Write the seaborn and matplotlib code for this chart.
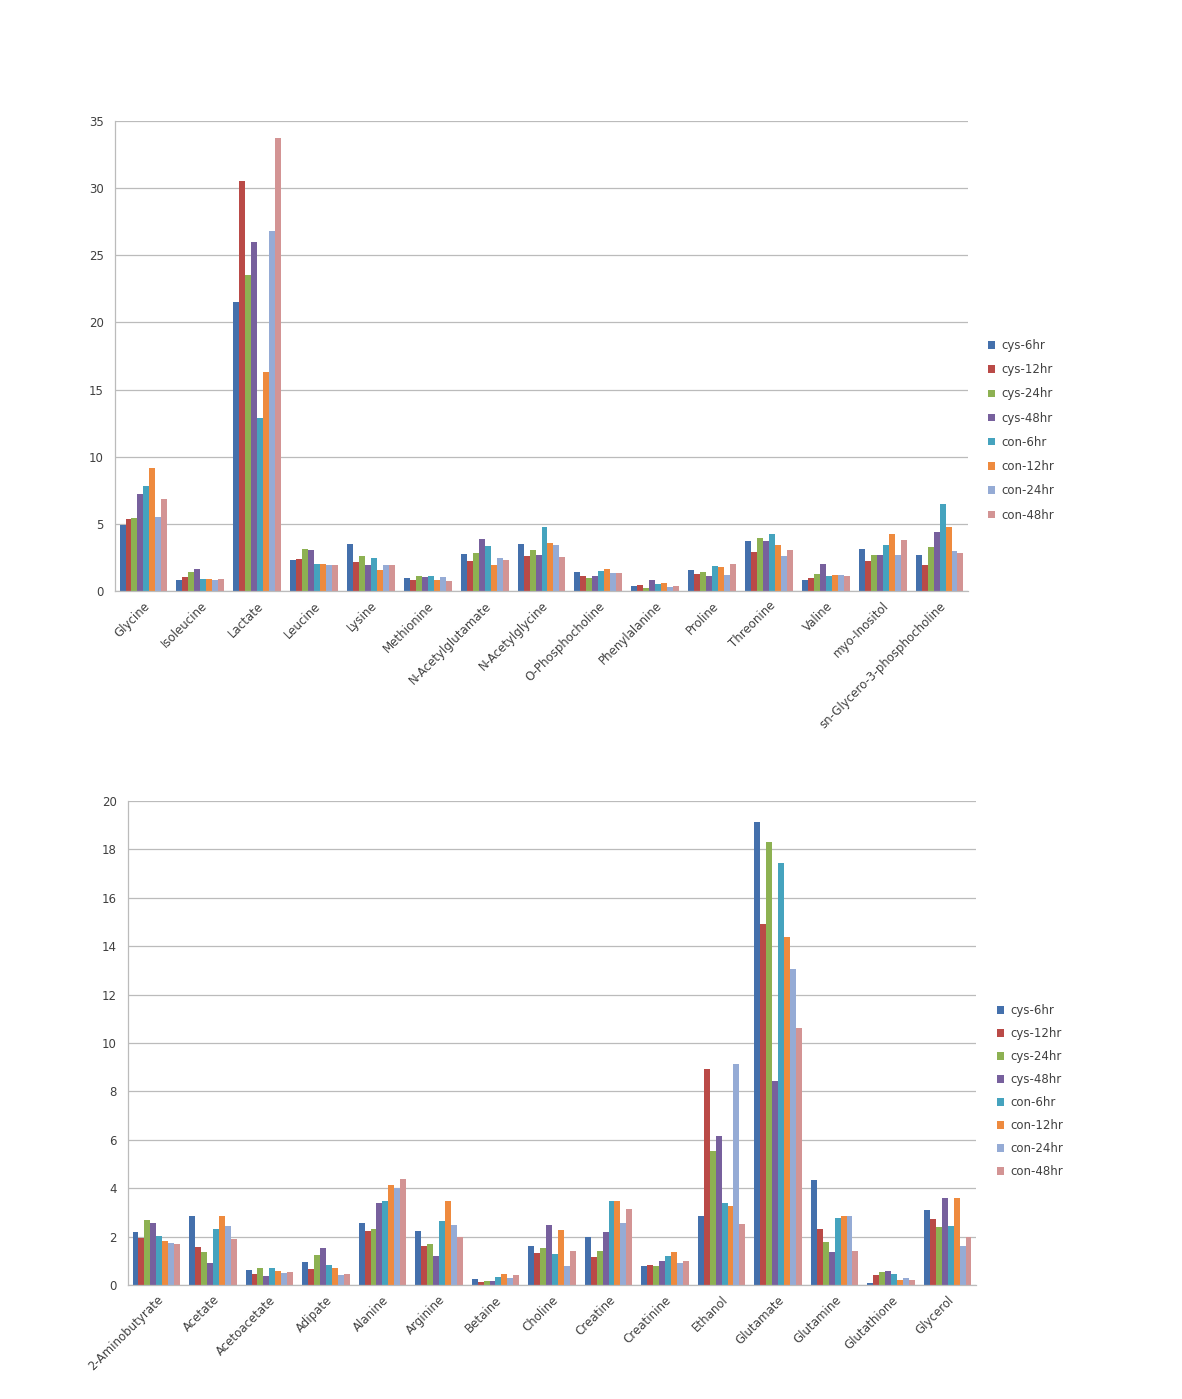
import matplotlib
matplotlib.use("Agg")
import matplotlib.pyplot as plt
import seaborn as sns
import pandas as pd
import numpy as np

series_names = ['cys-6hr', 'cys-12hr', 'cys-24hr', 'cys-48hr',
                'con-6hr', 'con-12hr', 'con-24hr', 'con-48hr']
colors = ['#4470AC', '#BA4A47', '#8DB152', '#77609D',
          '#45A3BE', '#EE8A3E', '#95ABD5', '#D39494']

top_categories = ['Glycine', 'Isoleucine', 'Lactate', 'Leucine', 'Lysine', 'Methionine',
                  'N-Acetylglutamate', 'N-Acetylglycine', 'O-Phosphocholine', 'Phenylalanine',
                  'Proline', 'Threonine', 'Valine', 'myo-Inositol', 'sn-Glycero-3-phosphocholine']
top_cys6 = [4.88, 0.85, 21.5, 2.31, 3.48, 0.95, 2.73, 3.48, 1.40, 0.35, 1.53, 3.76, 0.82, 3.14, 2.70]
top_cys12 = [5.37, 1.02, 30.5, 2.41, 2.14, 0.85, 2.25, 2.58, 1.13, 0.45, 1.26, 2.90, 0.97, 2.23, 1.96]
top_cys24 = [5.47, 1.42, 23.5, 3.16, 2.59, 1.10, 2.83, 3.05, 0.98, 0.25, 1.41, 3.91, 1.29, 2.65, 3.27]
top_cys48 = [7.24, 1.64, 26.0, 3.06, 1.92, 1.03, 3.88, 2.68, 1.15, 0.85, 1.11, 3.74, 2.00, 2.70, 4.38]
top_con6 = [7.81, 0.92, 12.9, 2.01, 2.46, 1.15, 3.38, 4.80, 1.50, 0.53, 1.83, 4.21, 1.09, 3.44, 6.51]
top_con12 = [9.18, 0.92, 16.3, 2.01, 1.59, 0.85, 1.90, 3.55, 1.63, 0.63, 1.76, 3.39, 1.16, 4.21, 4.80]
top_con24 = [5.52, 0.80, 26.8, 1.94, 1.92, 1.05, 2.43, 3.43, 1.33, 0.27, 1.19, 2.57, 1.21, 2.65, 2.95]
top_con48 = [6.82, 0.87, 33.7, 1.92, 1.97, 0.75, 2.33, 2.50, 1.33, 0.37, 2.00, 3.07, 1.11, 3.79, 2.85]

bot_categories = ['2-Aminobutyrate', 'Acetate', 'Acetoacetate', 'Adipate', 'Alanine', 'Arginine',
                  'Betaine', 'Choline', 'Creatine', 'Creatinine', 'Ethanol', 'Glutamate',
                  'Glutamine', 'Glutathione', 'Glycerol']
bot_cys6 = [2.18, 2.87, 0.63, 0.97, 2.58, 2.25, 0.25, 1.60, 2.00, 0.80, 2.87, 19.13, 4.34, 0.08, 3.09]
bot_cys12 = [1.94, 1.57, 0.46, 0.65, 2.22, 1.60, 0.14, 1.31, 1.16, 0.81, 8.92, 14.93, 2.31, 0.43, 2.71]
bot_cys24 = [2.68, 1.35, 0.69, 1.26, 2.32, 1.70, 0.17, 1.52, 1.39, 0.79, 5.52, 18.31, 1.77, 0.55, 2.40]
bot_cys48 = [2.55, 0.91, 0.39, 1.54, 3.37, 1.19, 0.18, 2.46, 2.18, 0.98, 6.17, 8.43, 1.38, 0.58, 3.58]
bot_con6 = [2.01, 2.33, 0.72, 0.84, 3.46, 2.63, 0.34, 1.30, 3.46, 1.20, 3.38, 17.42, 2.76, 0.44, 2.43]
bot_con12 = [1.83, 2.84, 0.57, 0.69, 4.14, 3.48, 0.44, 2.29, 3.46, 1.37, 3.26, 14.38, 2.85, 0.21, 3.58]
bot_con24 = [1.75, 2.43, 0.50, 0.40, 3.99, 2.46, 0.30, 0.79, 2.57, 0.90, 9.13, 13.05, 2.87, 0.30, 1.60]
bot_con48 = [1.71, 1.89, 0.54, 0.46, 4.38, 1.97, 0.41, 1.39, 3.12, 1.01, 2.53, 10.64, 1.42, 0.21, 1.98]

top_series = [top_cys6, top_cys12, top_cys24, top_cys48, top_con6, top_con12, top_con24, top_con48]
bot_series = [bot_cys6, bot_cys12, bot_cys24, bot_cys48, bot_con6, bot_con12, bot_con24, bot_con48]


def long_frame(categories, series):
    rows = []
    for name, vals in zip(series_names, series):
        for c, v in zip(categories, vals):
            rows.append({'category': c, 'series': name, 'value': v})
    return pd.DataFrame(rows)


sns.set_style("white")
plt.rcParams['font.family'] = ['DejaVu Sans']

fig = plt.figure(figsize=(11.82, 13.99), dpi=100)
W, H = 1182, 1399

ax_top = fig.add_axes([115 / W, 1 - 591 / H, (968 - 115) / W, 470 / H])
ax_bot = fig.add_axes([128 / W, 1 - 1285 / H, (976 - 128) / W, 484 / H])

text_color = '#404040'
grid_color = '#BBBBBB'


def draw(ax, categories, series, ymax, ystep, legend_anchor, spacing):
    df = long_frame(categories, series)
    sns.barplot(data=df, x='category', y='value', hue='series', order=categories,
                hue_order=series_names, palette=colors, width=0.84, gap=0,
                saturation=1, errorbar=None, ax=ax, linewidth=0)
    ax.set_xlim(-0.5, len(categories) - 0.5)
    ax.set_ylim(0, ymax)
    ax.set_yticks(np.arange(0, ymax + 0.01, ystep))
    ax.set_yticklabels([f"{int(t)}" for t in np.arange(0, ymax + 0.01, ystep)],
                       fontsize=8.5, color=text_color)
    ax.yaxis.grid(True, color=grid_color, linewidth=0.9)
    ax.set_axisbelow(True)
    ax.set_xlabel('')
    ax.set_ylabel('')
    ax.set_xticks(range(len(categories)))
    ax.set_xticklabels(categories, rotation=45, ha='right', rotation_mode='anchor',
                       fontsize=8.5, color=text_color)
    ax.tick_params(axis='x', length=0, pad=6)
    ax.set_xticks(np.arange(-0.5, len(categories)), minor=True)
    ax.tick_params(axis='x', which='minor', length=4, color=grid_color, direction='out')
    ax.tick_params(axis='y', length=4, color=grid_color, direction='out', pad=4)
    for s in ['top', 'right']:
        ax.spines[s].set_visible(False)
    for s in ['left', 'bottom']:
        ax.spines[s].set_color(grid_color)
        ax.spines[s].set_linewidth(0.9)
    handles, labels = ax.get_legend_handles_labels()
    ax.legend_.remove()
    leg = fig.legend(handles, labels, loc='upper left', bbox_to_anchor=legend_anchor,
                     bbox_transform=fig.transFigure, frameon=False, fontsize=8.5,
                     handlelength=0.6, handleheight=0.6, handletextpad=0.5,
                     labelspacing=spacing, borderaxespad=0, borderpad=0)
    for t in leg.get_texts():
        t.set_color(text_color)


draw(ax_top, top_categories, top_series, 35, 5, (988 / W, 1 - 339 / H), 0.95)
draw(ax_bot, bot_categories, bot_series, 20, 2, (997 / W, 1 - 1004 / H), 0.85)

fig.savefig('out.png', dpi=100)
